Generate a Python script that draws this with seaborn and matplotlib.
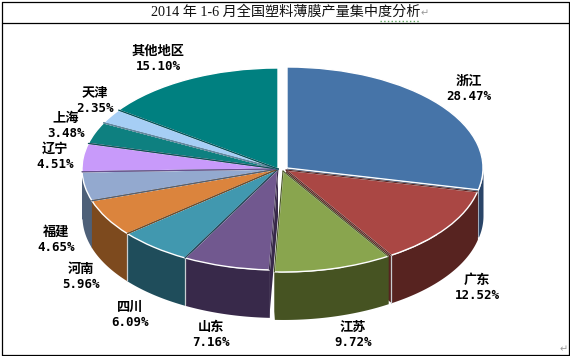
import matplotlib
matplotlib.use("Agg")
import matplotlib.pyplot as plt
from matplotlib.lines import Line2D
import numpy as np
import seaborn as sns

regions = ["浙江", "广东", "江苏", "山东", "四川", "河南", "福建", "辽宁", "上海", "天津", "其他地区"]
shares = [28.47, 12.52, 9.72, 7.16, 6.09, 5.96, 4.65, 4.51, 3.48, 2.35, 15.10]
title_text = "2014 年 1-6 月全国塑料薄膜产量集中度分析"

# style and layout, all in reference pixels
top_colors = ["#4674A8", "#AA4744", "#89A54E", "#71588F", "#4198AF", "#DB843D",
              "#93A9CF", "#C89AFA", "#0E8080", "#A6CEF5", "#008080"]
wall_colors = ["#2A4568", "#572320", "#465322", "#38294A", "#1F4D5B", "#7D4A1E",
               "#4E6078", "#6A5090", "#0A5050", "#6A8AA8", "#005050"]
slice_shift = {0: (9, -1), 1: (8, 1), 2: (5, 2)}
label_xy = [(469, 81), (477, 280), (353, 327), (211, 327), (130, 307), (81, 269),
            (56, 232), (55, 149), (66, 118), (95, 93), (158, 51)]
W, H = 570, 356
CX, CY, RX, RY = 278, 169, 196, 101
DEPTH = 0.47

LABEL_FONT = ["DejaVu Sans Mono", "Noto Sans CJK SC"]
TITLE_FONT = ["Liberation Serif", "Noto Sans CJK SC", "DejaVu Sans"]


def px(x, y):
    return x / W, 1 - y / H


def main():
    sns.set_theme(style="white")
    fig = plt.figure(figsize=(W / 100, H / 100), dpi=100, facecolor="white")
    ax = fig.add_axes([0, 0, 1, 1])

    wedges, _ = ax.pie(shares, colors=top_colors, startangle=90, counterclock=False, radius=1)
    # squash the round pie into the tilted ellipse
    ax.set_aspect("auto")
    ax.set_xlim(-CX / RX, (W - CX) / RX)
    ax.set_ylim((CY - H) / RY, CY / RY)

    for i, wedge in enumerate(wedges):
        wedge.set_zorder(20)
        dx, dy = slice_shift.get(i, (0, 0))
        wedge.set_center((dx / RX, -dy / RY))
        cx, cy = wedge.center
        t1, t2 = wedge.theta1 % 360, wedge.theta2 % 360
        if t2 <= t1:
            t2 += 360
        mid = np.radians((t1 + t2) / 2)
        z = 5 - np.sin(mid) + (0.5 if i == 2 else 0)

        # outer wall, only the part that faces the viewer
        for shift in (0, -360):
            a = max(t1 + shift, 180)
            b = min(t2 + shift, 360)
            if b > a:
                t = np.radians(np.linspace(a, b, 60))
                x = cx + np.cos(t)
                y = cy + np.sin(t)
                ax.fill_between(x, y - DEPTH, y, color=wall_colors[i], lw=0, zorder=z)

        # radial wall and seam for both cut faces
        for ang in (t1, t2):
            ex = cx + np.cos(np.radians(ang))
            ey = cy + np.sin(np.radians(ang))
            ax.fill([cx, ex, ex, cx], [cy, ey, ey - DEPTH, cy - DEPTH],
                    color=wall_colors[i], lw=0, zorder=z - 0.01)
            if i > 0 and np.sin(np.radians(ang)) < 0.95:
                ax.plot([cx, ex], [cy, ey], color=wall_colors[i], lw=0.8, zorder=21)
            if i in (1, 3, 4) and ang == t1:
                ax.plot([ex, ex], [ey, ey - DEPTH], color="#C8CDD0", lw=0.9, zorder=10)

    # labels
    for name, share, (lx, ly) in zip(regions, shares, label_xy):
        x, y = px(lx, ly)
        fig.text(x, y, name, ha="center", va="center", fontsize=9.5, weight="bold",
                 family=LABEL_FONT, color="black")
        x, y = px(lx, ly + 15.5)
        fig.text(x, y, f"{share:.2f}%", ha="center", va="center", fontsize=9, weight="bold",
                 family=LABEL_FONT, color="black")

    # table frame and title row
    x0, y1 = px(1.5, 1.5)
    x1, y0 = px(569, 355)
    _, ym = px(0, 22.5)
    for xs, ys in [([x0, x1], [y1, y1]), ([x0, x1], [y0, y0]), ([x0, x0], [y0, y1]),
                   ([x1, x1], [y0, y1]), ([x0, x1], [ym, ym])]:
        fig.add_artist(Line2D(xs, ys, color="black", lw=0.9))

    x, y = px(285.5, 12.5)
    fig.text(x, y, title_text, ha="center", va="center", fontsize=10.2, family=TITLE_FONT,
             color="#111111")
    # spell check squiggle under the last characters
    xa, ya = px(380, 21)
    xb, _ = px(420, 21)
    fig.add_artist(Line2D([xa, xb], [ya, ya], color="#5CA05C", lw=1, ls=":"))
    # paragraph marks
    x, y = px(425, 13)
    fig.text(x, y, "↵", ha="center", va="center", fontsize=7, family="DejaVu Sans", color="#999999")
    x, y = px(564, 349)
    fig.text(x, y, "↵", ha="center", va="center", fontsize=7, family="DejaVu Sans", color="#999999")

    fig.savefig("out.png", dpi=100, facecolor="white")


if __name__ == "__main__":
    main()
